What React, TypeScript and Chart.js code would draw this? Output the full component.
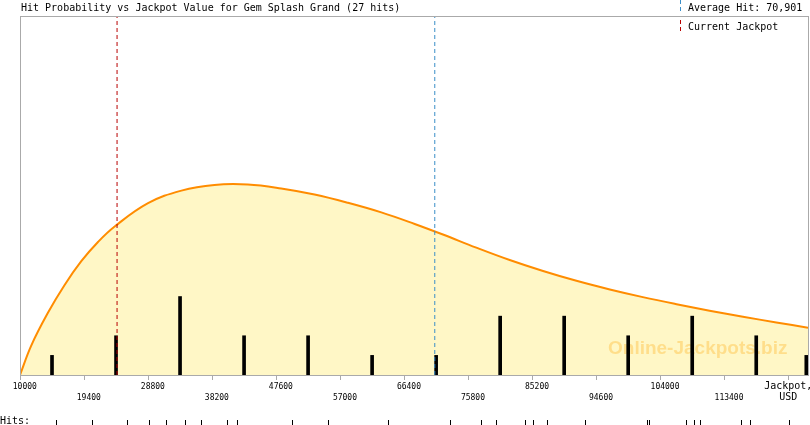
import { useEffect, useRef } from "react";
import { Chart, registerables } from "chart.js";

Chart.register(...registerables);

const TITLE = "Hit Probability vs Jackpot Value for Gem Splash Grand (27 hits)";
const MONO = '"DejaVu Sans Mono", monospace';

const X_MIN = 10000;
const X_MAX = 125700;
const Y_MAX = 18.3;

const AVERAGE_HIT = 70901;
const CURRENT_JACKPOT = 24250;

// axis ticks (every 9400 USD), labels alternate between two rows
const tickValues = [10000, 19400, 28800, 38200, 47600, 57000, 66400, 75800, 85200, 94600, 104000, 113400, 122800];
const tickLabels = ["10000", "19400", "28800", "38200", "47600", "57000", "66400", "75800", "85200", "94600", "104000", "113400", "Jackpot, USD"];

// histogram: hits per 9400 bin (last bar sits on the right edge)
const binCenters = [14700, 24100, 33500, 42900, 52300, 61700, 71100, 80500, 89900, 99300, 108700, 118100, 125450];
const binHits = [1, 2, 4, 2, 2, 1, 1, 3, 3, 2, 3, 2, 1];

// probability curve, read in "hits" units
const curveJackpot = [10000, 11650, 14100, 16550, 19000, 21450, 23900, 28800, 33700, 38550, 43450, 48350, 53250, 58150, 63050, 67950, 72100, 77000, 81900, 86800, 91700, 96600, 101450, 106400, 111250, 116150, 121050, 125700];
const curveLevel = [0, 1.5, 3.17, 4.59, 5.8, 6.78, 7.57, 8.76, 9.4, 9.69, 9.71, 9.51, 9.2, 8.78, 8.29, 7.7, 7.16, 6.49, 5.86, 5.3, 4.8, 4.36, 3.97, 3.61, 3.28, 2.97, 2.68, 2.41];

// individual hits (strip under the axis)
const hitValues = [15300, 20550, 25750, 28900, 31400, 34200, 36600, 40400, 41850, 50000, 55250, 64000, 73200, 77650, 79900, 84150, 85300, 87450, 92950, 102050, 102350, 107850, 108900, 109850, 115900, 117250, 122900];

const decorations = {
  id: "decorations",
  afterDatasetDraw(chart: any, args: any) {
    if (args.index !== 0) return;
    const { ctx, chartArea } = chart;
    ctx.save();
    ctx.font = 'bold 19px "Liberation Sans", Arial, sans-serif';
    ctx.fillStyle = "rgba(255, 165, 0, 0.3)";
    ctx.textBaseline = "alphabetic";
    ctx.fillText("Online-Jackpots.biz", chartArea.right - 200, chartArea.bottom - 21);
    ctx.restore();
  },
  afterDatasetsDraw(chart: any) {
    const { ctx, chartArea } = chart;
    ctx.save();
    ctx.strokeStyle = "#aaaaaa";
    ctx.lineWidth = 1;
    const l = Math.floor(chartArea.left) + 0.5;
    const t = Math.floor(chartArea.top) + 0.5;
    const r = Math.floor(chartArea.right) + 0.5;
    const b = Math.floor(chartArea.bottom) + 0.5;
    ctx.strokeRect(l, t, r - l, b - t);
    ctx.restore();
  },
  afterDraw(chart: any) {
    const { ctx } = chart;
    const x = chart.scales.x;
    ctx.save();
    ctx.fillStyle = "#000";
    ctx.font = `10px ${MONO}`;
    ctx.textBaseline = "alphabetic";
    ctx.fillText(TITLE, 21, 11);

    // legend
    ctx.fillText("Average Hit: " + AVERAGE_HIT.toLocaleString("en-US"), 688, 11);
    ctx.fillText("Current Jackpot", 688, 30);
    ctx.lineWidth = 1;
    ctx.setLineDash([4, 3]);
    ctx.strokeStyle = "#3a8ec8";
    ctx.beginPath();
    ctx.moveTo(680.5, 0);
    ctx.lineTo(680.5, 13);
    ctx.stroke();
    ctx.strokeStyle = "#b80000";
    ctx.beginPath();
    ctx.moveTo(680.5, 20);
    ctx.lineTo(680.5, 34);
    ctx.stroke();
    ctx.setLineDash([]);

    // hits strip
    ctx.fillText("Hits:", 0, 424);
    ctx.strokeStyle = "#000";
    ctx.beginPath();
    for (const v of hitValues) {
      const px = Math.round(x.getPixelForValue(v)) + 0.5;
      ctx.moveTo(px, 420);
      ctx.lineTo(px, 425);
    }
    ctx.stroke();
    ctx.restore();
  },
};

export default function App() {
  const canvasRef = useRef<HTMLCanvasElement | null>(null);

  useEffect(() => {
    if (!canvasRef.current) return;
    const lastTick = tickValues.length - 1;
    const chart = new Chart(canvasRef.current, {
      type: "bar",
      data: {
        datasets: [
          {
            type: "line",
            label: "Probability",
            data: curveJackpot.map((x, i) => ({ x, y: curveLevel[i] })),
            borderColor: "#ff8c00",
            borderWidth: 2,
            backgroundColor: "#fff7c6",
            fill: "origin",
            pointRadius: 0,
            tension: 0.4,
            order: 3,
          },
          {
            type: "bar",
            label: "Hits",
            data: binCenters.map((x, i) => ({ x, y: binHits[i] })),
            backgroundColor: "#000000",
            barThickness: 3,
            order: 2,
          },
          {
            type: "line",
            label: "Current Jackpot",
            data: [
              { x: CURRENT_JACKPOT, y: 0 },
              { x: CURRENT_JACKPOT, y: Y_MAX },
            ],
            borderColor: "#b80000",
            borderWidth: 1,
            borderDash: [4, 3],
            pointRadius: 0,
            fill: false,
            order: 1,
          },
          {
            type: "line",
            label: "Average Hit",
            data: [
              { x: AVERAGE_HIT, y: 0 },
              { x: AVERAGE_HIT, y: Y_MAX },
            ],
            borderColor: "#3a8ec8",
            borderWidth: 1,
            borderDash: [4, 3],
            pointRadius: 0,
            fill: false,
            order: 1,
          },
        ] as any,
      },
      options: {
        animation: false,
        responsive: false,
        maintainAspectRatio: false,
        layout: { padding: { top: 16, left: 20, right: 2, bottom: 0 } },
        plugins: {
          legend: { display: false },
          tooltip: { enabled: false },
        },
        scales: {
          x: {
            type: "linear",
            min: X_MIN,
            max: X_MAX,
            offset: false,
            afterBuildTicks: (axis: any) => {
              axis.ticks = tickValues.map((value) => ({ value }));
            },
            afterFit: (axis: any) => {
              axis.height = 50;
              axis.paddingLeft = 0;
              axis.paddingRight = 0;
            },
            grid: {
              display: true,
              offset: false,
              drawOnChartArea: false,
              drawTicks: true,
              tickLength: 5,
              color: "#aaaaaa",
            },
            border: { display: false },
            ticks: {
              autoSkip: false,
              maxRotation: 0,
              minRotation: 0,
              padding: 1,
              color: "#000000",
              font: (ctx: any) => ({
                family: MONO,
                size: ctx.index === lastTick ? 10 : 8,
                lineHeight: "11px",
              }),
              callback: (_value: any, index: number) => {
                const label = tickLabels[index];
                if (index === lastTick) return label.split(" ");
                // numbers sit a little right of their tick in the original
                const shifted = "  " + label;
                return index % 2 === 1 ? ["", shifted] : shifted;
              },
            },
          },
          y: { type: "linear", display: false, min: 0, max: Y_MAX },
        },
      } as any,
      plugins: [decorations],
    });
    return () => chart.destroy();
  }, []);

  return (
    <div style={{ position: "absolute", left: 0, top: 0 }}>
      <canvas ref={canvasRef} width={810} height={425} style={{ display: "block" }} />
    </div>
  );
}
